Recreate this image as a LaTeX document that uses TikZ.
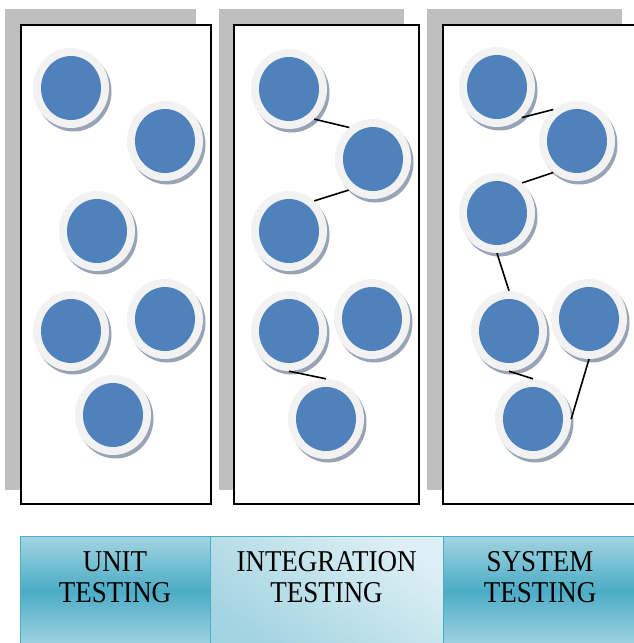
\documentclass[tikz,border=0pt]{standalone}
\usepackage{fontspec}
\setmainfont{Liberation Serif}
\usetikzlibrary{shapes.geometric,shadows}
\definecolor{ballblue}{HTML}{4F81BD}
\definecolor{ringgray}{HTML}{F2F2F2}
\definecolor{ballshade}{HTML}{98A4B6}
\definecolor{panelgray}{HTML}{BFBFBF}
\definecolor{tealdark}{HTML}{4BACC6}
\definecolor{teallight}{HTML}{A3D4E1}
\definecolor{tealpale}{HTML}{DDEFF4}

\newcommand{\tallname}[1]{\scalebox{1}[1.12]{\begin{tabular}{@{}c@{}}#1\end{tabular}}}

\tikzset{
  ball/.style={ellipse, fill=ringgray, minimum width=76pt, minimum height=80pt, inner sep=0pt,
    drop shadow={shadow xshift=2.5pt, shadow yshift=-3.5pt, fill=ballshade, opacity=1},
    path picture={\fill[ballblue] (path picture bounding box.center) ellipse (30pt and 32pt);}},
  link/.style={line width=1.6pt},
  panel/.style={fill=white, draw=black, line width=1.6pt},
  backing/.style={fill=panelgray},
  stagebox/.style={draw=tealdark, line width=0.8pt, minimum height=110pt, inner sep=0pt},
  stagetext/.style={font=\fontsize{27}{28}\selectfont, inner sep=0pt}
}

\begin{document}
\begin{tikzpicture}[x=1pt,y=-1pt]
\path[use as bounding box] (0,0) rectangle (634,643);
\clip (0,0) rectangle (634,643);
% grey backings and the three panels
\fill[backing] (5,9) rectangle (196,490);
\fill[backing] (219,9) rectangle (404,490);
\fill[backing] (427,9) rectangle (622,490);
\draw[panel] (21,25) rectangle (211,504);
\draw[panel] (234,25) rectangle (419,504);
\draw[panel] (443,25) rectangle (645,504);
% modules
\foreach \n/\x/\y in {u1/71/88, u2/165/141, u3/97/231, u4/71/331, u5/165/319, u6/113/415,
  i1/289/89, i2/373/159, i3/289/231, i4/289/331, i5/372/319, i6/326/419,
  s1/497/87, s2/577/141, s3/497/213, s4/509/331, s5/589/319, s6/533/419}
\node[ball] (\n) at (\x,\y) {};
% links
\draw[link] (i1.-50) -- (i2.127);
\draw[link] (i2.-128) -- (i3.50);
\draw[link] (i4.south) -- (i6.north);
\draw[link] (s1.-51) -- (s2.127);
\draw[link] (s2.-127) -- (s3.50);
\draw[link] (s3.south) -- (s4.north);
\draw[link] (s4.south) -- (s6.north);
\draw[link] (s5.south) -- (s6.east);
% stage bar
\node[stagebox, top color=teallight, bottom color=teallight, middle color=tealdark, minimum width=190pt] (unitbox) at (115,591) {};
\node[stagebox, top color=tealpale, bottom color=teallight, shading angle=-35, minimum width=233pt] (integbox) at (326.5,591) {};
\node[stagebox, top color=teallight, bottom color=teallight, middle color=tealdark, minimum width=197pt] (sysbox) at (541.5,591) {};
\node[stagetext] (unitlbl) at (115,581) {\tallname{UNIT\\TESTING}};
\node[stagetext] (integlbl) at (326.5,581) {\tallname{INTEGRATION\\TESTING}};
\node[stagetext] (syslbl) at (540,581) {\tallname{SYSTEM\\TESTING}};
\end{tikzpicture}
\end{document}
